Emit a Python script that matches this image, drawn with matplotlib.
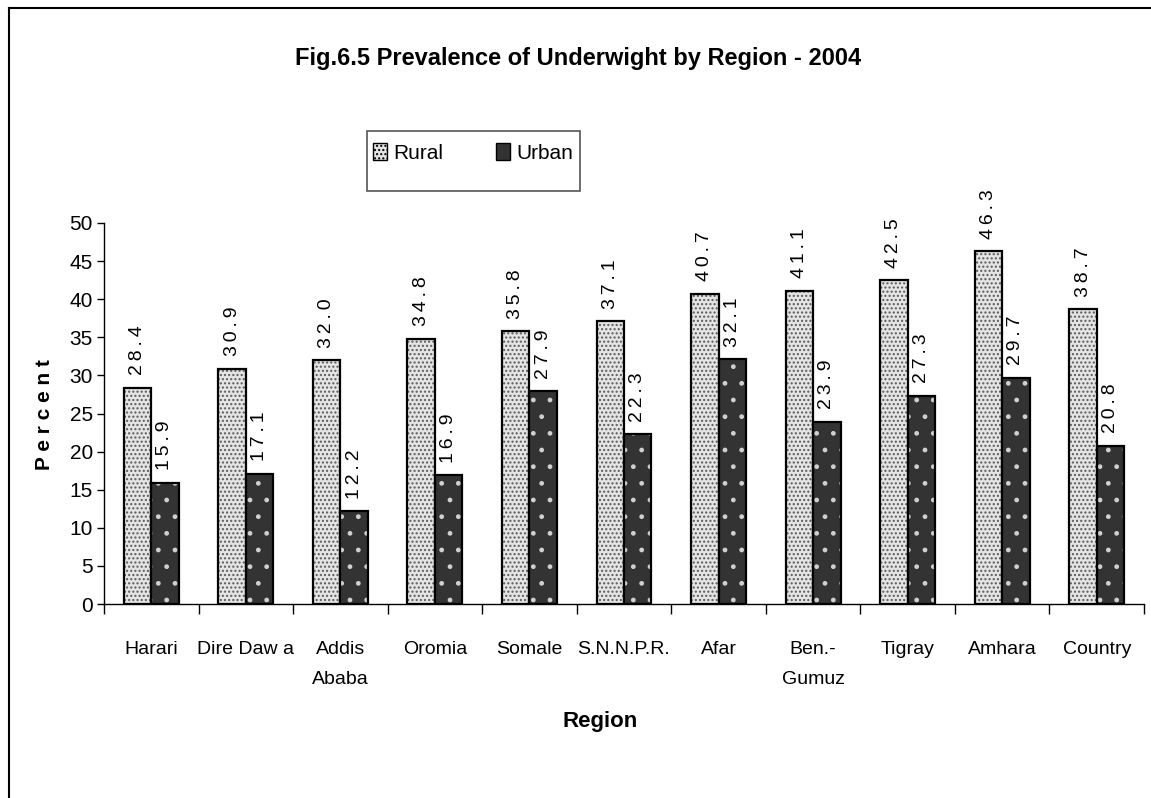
import numpy as np
import matplotlib
matplotlib.use("Agg")
import matplotlib.pyplot as plt
from matplotlib.patches import Rectangle, Patch
from matplotlib.lines import Line2D

# Data
regions = ["Harari", "Dire Daw a", "Addis\nAbaba", "Oromia", "Somale", "S.N.N.P.R.",
           "Afar", "Ben.-\nGumuz", "Tigray", "Amhara", "Country"]
rural = [28.4, 30.9, 32.0, 34.8, 35.8, 37.1, 40.7, 41.1, 42.5, 46.3, 38.7]
urban = [15.9, 17.1, 12.2, 16.9, 27.9, 22.3, 32.1, 23.9, 27.3, 29.7, 20.8]
yticks = list(range(0, 55, 5))

FONT = ["Liberation Sans Narrow", "Liberation Sans", "DejaVu Sans"]
plt.rcParams["font.family"] = FONT

fig = plt.figure(figsize=(11.51, 7.98), dpi=100)
ax = fig.add_axes([104 / 1151, 1 - 604 / 798, 1040 / 1151, 381 / 798])

x = np.arange(len(regions))
w = 0.29

# rural: light gray, fine dark speckle
ax.bar(x - w / 2, rural, w, color="#e4e4e4", edgecolor="#5a5a5a", hatch="....", linewidth=0)
ax.bar(x - w / 2, rural, w, fill=False, edgecolor="black", linewidth=1.6)
# urban: dark with sparse white dots
ax.bar(x + w / 2, urban, w, color="#333333", edgecolor="#d0d0d0", hatch=".", linewidth=0)
ax.bar(x + w / 2, urban, w, fill=False, edgecolor="black", linewidth=1.6)


def spaced(v):
    return "\u2009".join(f"{v:.1f}")


for xi, v in zip(x - w / 2, rural):
    ax.annotate(spaced(v), (xi, v), xytext=(0, 9), textcoords="offset points",
                rotation=90, ha="center", va="bottom", fontsize=14)
for xi, v in zip(x + w / 2, urban):
    ax.annotate(spaced(v), (xi, v), xytext=(0, 9), textcoords="offset points",
                rotation=90, ha="center", va="bottom", fontsize=14)

ax.set_xlim(-0.5, len(regions) - 0.5)
ax.set_ylim(0, 50)
ax.set_yticks(yticks)
ax.tick_params(axis="y", labelsize=15, length=5, width=1, pad=3)
ax.set_xticks(x)
ax.set_xticklabels(regions, fontsize=14, linespacing=2.0, va="top")
ax.tick_params(axis="x", length=0, pad=27)
ax.set_xticks(np.arange(len(regions) + 1) - 0.5, minor=True)
ax.tick_params(axis="x", which="minor", length=7, width=1)

for s in ["top", "right"]:
    ax.spines[s].set_visible(False)
ax.spines["left"].set_linewidth(1)
ax.spines["bottom"].set_linewidth(1)

fig.text(45 / 1151, 1 - 415 / 798, "P e r c e n t", rotation=90, ha="center", va="center",
         fontsize=15, fontweight="bold")
fig.text(600 / 1151, 1 - 722 / 798, "Region", ha="center", va="center",
         fontsize=16, fontweight="bold")
fig.text(578 / 1151, 1 - 58 / 798, "Fig.6.5 Prevalence of Underwight by Region - 2004",
         ha="center", va="center", fontsize=17, fontweight="bold")

# legend box
fig.patches.append(Rectangle((367 / 1151, 1 - 191 / 798), 213 / 1151, 60 / 798,
                             transform=fig.transFigure, fill=False, edgecolor="#555555",
                             linewidth=1.2))
handles = [Patch(facecolor="#e4e4e4", edgecolor="black", hatch="....", label="Rural"),
           Patch(facecolor="#333333", edgecolor="black", label="Urban")]
fig.legend(handles=handles, loc="center", bbox_to_anchor=(473 / 1151, 1 - 153 / 798),
           ncol=2, frameon=False, fontsize=15, handlelength=0.7, handleheight=0.9,
           handletextpad=0.3, columnspacing=2.5)

# outer chart border (top and left only visible)
fig.add_artist(Line2D([9 / 1151, 1], [1 - 8 / 798, 1 - 8 / 798], transform=fig.transFigure,
                      color="black", linewidth=1.5))
fig.add_artist(Line2D([9 / 1151, 9 / 1151], [0, 1 - 8 / 798], transform=fig.transFigure,
                      color="black", linewidth=1.5))

fig.savefig("out.png", dpi=100)
